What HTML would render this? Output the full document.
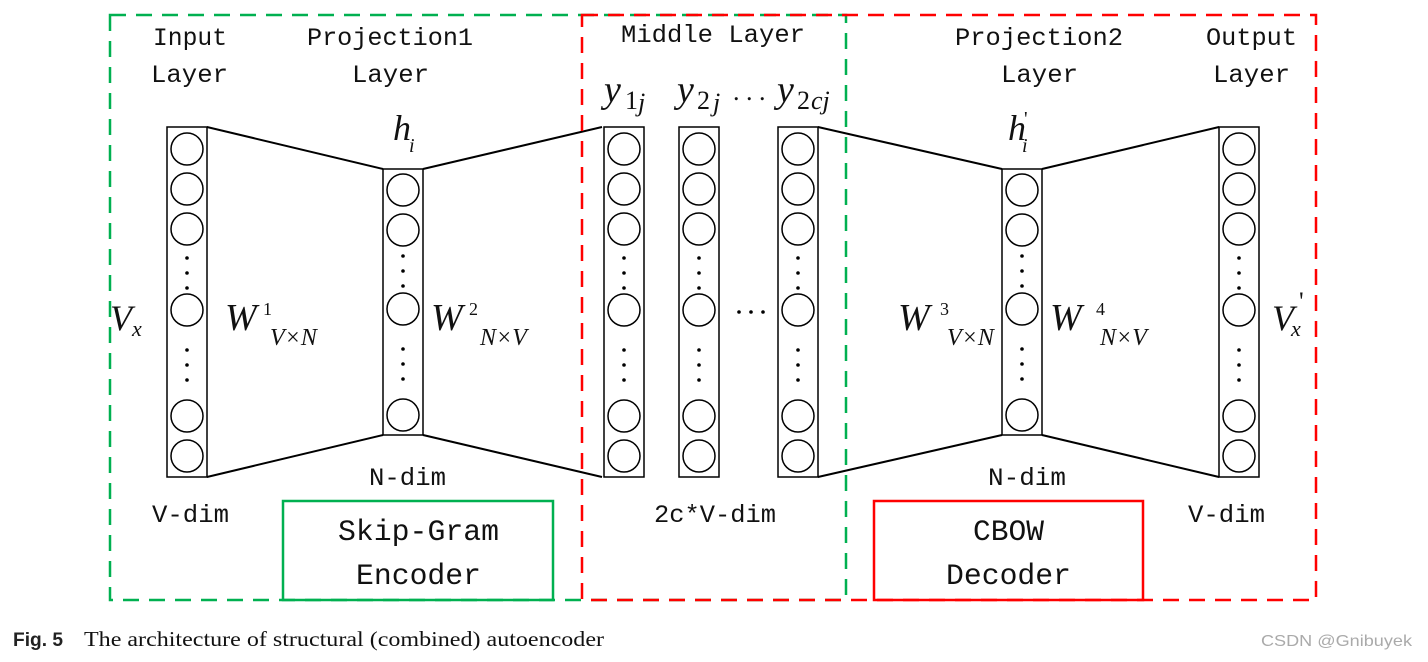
<!DOCTYPE html>
<html><head><meta charset="utf-8"><style>
html,body{margin:0;padding:0;background:#fff;}
svg{display:block;}
</style></head><body>
<svg width="1428" height="662" viewBox="0 0 1428 662" xmlns="http://www.w3.org/2000/svg">
<defs>
<g id="big">
<rect x="0" y="0" width="40" height="350" fill="#fff" stroke="#000" stroke-width="1.5"/>
<g fill="none" stroke="#000" stroke-width="1.5">
<circle cx="20" cy="22" r="16"/><circle cx="20" cy="62" r="16"/><circle cx="20" cy="102" r="16"/>
<circle cx="20" cy="183" r="16"/><circle cx="20" cy="289" r="16"/><circle cx="20" cy="329" r="16"/>
</g>
<g fill="#000">
<circle cx="20" cy="131" r="1.8"/><circle cx="20" cy="146" r="1.8"/><circle cx="20" cy="161" r="1.8"/>
<circle cx="20" cy="223" r="1.8"/><circle cx="20" cy="238" r="1.8"/><circle cx="20" cy="253" r="1.8"/>
</g>
</g>
<g id="small">
<rect x="0" y="0" width="40" height="266" fill="#fff" stroke="#000" stroke-width="1.5"/>
<g fill="none" stroke="#000" stroke-width="1.5">
<circle cx="20" cy="21" r="16"/><circle cx="20" cy="61" r="16"/><circle cx="20" cy="140" r="16"/><circle cx="20" cy="246" r="16"/>
</g>
<g fill="#000">
<circle cx="20" cy="87" r="1.8"/><circle cx="20" cy="102" r="1.8"/><circle cx="20" cy="117" r="1.8"/>
<circle cx="20" cy="180" r="1.8"/><circle cx="20" cy="195" r="1.8"/><circle cx="20" cy="210" r="1.8"/>
</g>
</g>
</defs>

<!-- connecting lines -->
<g stroke="#000" stroke-width="2" fill="none">
<line x1="207" y1="127" x2="383" y2="169"/>
<line x1="207" y1="477" x2="383" y2="435"/>
<line x1="423" y1="169" x2="602" y2="127"/>
<line x1="423" y1="435" x2="602" y2="477"/>
<line x1="818" y1="127" x2="1002" y2="169"/>
<line x1="818" y1="477" x2="1002" y2="435"/>
<line x1="1042" y1="169" x2="1219" y2="127"/>
<line x1="1042" y1="435" x2="1219" y2="477"/>
</g>

<!-- dashed boxes -->
<rect x="110" y="15" width="736" height="585" fill="none" stroke="#00b050" stroke-width="2.5" stroke-dasharray="16,10"/>
<rect x="582" y="15" width="734" height="585" fill="none" stroke="#ff0000" stroke-width="2.5" stroke-dasharray="16,10"/>

<!-- columns -->
<use href="#big" x="167" y="127"/>
<use href="#small" x="383" y="169"/>
<use href="#big" x="604" y="127"/>
<use href="#big" x="679" y="127"/>
<use href="#big" x="778" y="127"/>
<use href="#small" x="1002" y="169"/>
<use href="#big" x="1219" y="127"/>

<g fill="#000"><circle cx="739" cy="312" r="1.8"/><circle cx="751" cy="312" r="1.8"/><circle cx="763" cy="312" r="1.8"/></g>

<!-- solid boxes -->
<rect x="283" y="501" width="270" height="99" fill="none" stroke="#00b050" stroke-width="2.5"/>
<rect x="874" y="501" width="269" height="99" fill="none" stroke="#ff0000" stroke-width="2.5"/>

<!-- labels -->
<g font-family="Liberation Mono, monospace" font-size="25" fill="#111">
<text x="153" y="45" textLength="74" lengthAdjust="spacingAndGlyphs">Input</text>
<text x="151" y="82" textLength="77" lengthAdjust="spacingAndGlyphs">Layer</text>
<text x="307" y="45" textLength="166" lengthAdjust="spacingAndGlyphs">Projection1</text>
<text x="352" y="82" textLength="77" lengthAdjust="spacingAndGlyphs">Layer</text>
<text x="621" y="42" textLength="184" lengthAdjust="spacingAndGlyphs">Middle Layer</text>
<text x="955" y="45" textLength="168" lengthAdjust="spacingAndGlyphs">Projection2</text>
<text x="1001" y="82" textLength="77" lengthAdjust="spacingAndGlyphs">Layer</text>
<text x="1206" y="45" textLength="91" lengthAdjust="spacingAndGlyphs">Output</text>
<text x="1213" y="82" textLength="77" lengthAdjust="spacingAndGlyphs">Layer</text>
<text x="369" y="485" textLength="77" lengthAdjust="spacingAndGlyphs">N-dim</text>
<text x="988" y="485" textLength="78" lengthAdjust="spacingAndGlyphs">N-dim</text>
<text x="152" y="522" textLength="77" lengthAdjust="spacingAndGlyphs">V-dim</text>
<text x="1188" y="522" textLength="77" lengthAdjust="spacingAndGlyphs">V-dim</text>
<text x="654" y="522" textLength="122" lengthAdjust="spacingAndGlyphs">2c*V-dim</text>
</g>
<g font-family="Liberation Mono, monospace" font-size="30" fill="#111">
<text x="338" y="540" textLength="161" lengthAdjust="spacingAndGlyphs">Skip-Gram</text>
<text x="356" y="584" textLength="125" lengthAdjust="spacingAndGlyphs">Encoder</text>
<text x="973" y="540" textLength="71" lengthAdjust="spacingAndGlyphs">CBOW</text>
<text x="946" y="584" textLength="125" lengthAdjust="spacingAndGlyphs">Decoder</text>
</g>

<!-- math -->
<g font-family="Liberation Serif, serif" font-style="italic" fill="#111">
<text x="604" y="102" font-size="38">y</text><text x="625" y="109" font-size="26" font-style="normal">1</text><text x="638" y="111" font-size="26">j</text>
<text x="677" y="102" font-size="38">y</text><text x="697" y="109" font-size="26" font-style="normal">2</text><text x="713" y="111" font-size="26">j</text>
<text x="733" y="100" font-size="26" font-style="normal">. . .</text>
<text x="777" y="102" font-size="38">y</text><text x="797" y="109" font-size="26" font-style="normal">2</text><text x="811" y="109" font-size="26">cj</text>
<text x="393" y="140" font-size="36">h</text><text x="409" y="152" font-size="20">i</text>
<text x="1008" y="140" font-size="36">h</text><text x="1022" y="152" font-size="20">i</text><text x="1024" y="125" font-size="20" font-style="normal">'</text>
<text x="110" y="330" font-size="36">V</text><text x="132" y="336" font-size="22">x</text>
<text x="1272" y="330" font-size="36">V</text><text x="1291" y="336" font-size="22">x</text><text x="1299" y="310" font-size="26" font-style="normal">'</text>
<text x="225" y="330" font-size="38">W</text><text x="263" y="315" font-size="18" font-style="normal">1</text><text x="270" y="345" font-size="24">V×N</text>
<text x="431" y="330" font-size="38">W</text><text x="469" y="315" font-size="18" font-style="normal">2</text><text x="480" y="345" font-size="24">N×V</text>
<text x="898" y="330" font-size="38">W</text><text x="940" y="315" font-size="18" font-style="normal">3</text><text x="947" y="345" font-size="24">V×N</text>
<text x="1050" y="330" font-size="38">W</text><text x="1096" y="315" font-size="18" font-style="normal">4</text><text x="1100" y="345" font-size="24">N×V</text>
</g>

<!-- caption -->
<text x="13" y="646" font-family="Liberation Sans, sans-serif" font-weight="bold" font-size="19" fill="#222" textLength="50" lengthAdjust="spacingAndGlyphs">Fig. 5</text>
<text x="84" y="646" font-family="Liberation Serif, serif" font-size="21" fill="#111" textLength="520" lengthAdjust="spacingAndGlyphs">The architecture of structural (combined) autoencoder</text>
<text x="1261" y="646" font-family="Liberation Sans, sans-serif" font-size="16" fill="#aaa" textLength="151" lengthAdjust="spacingAndGlyphs">CSDN @Gnibuyek</text>
</svg>
</body></html>
